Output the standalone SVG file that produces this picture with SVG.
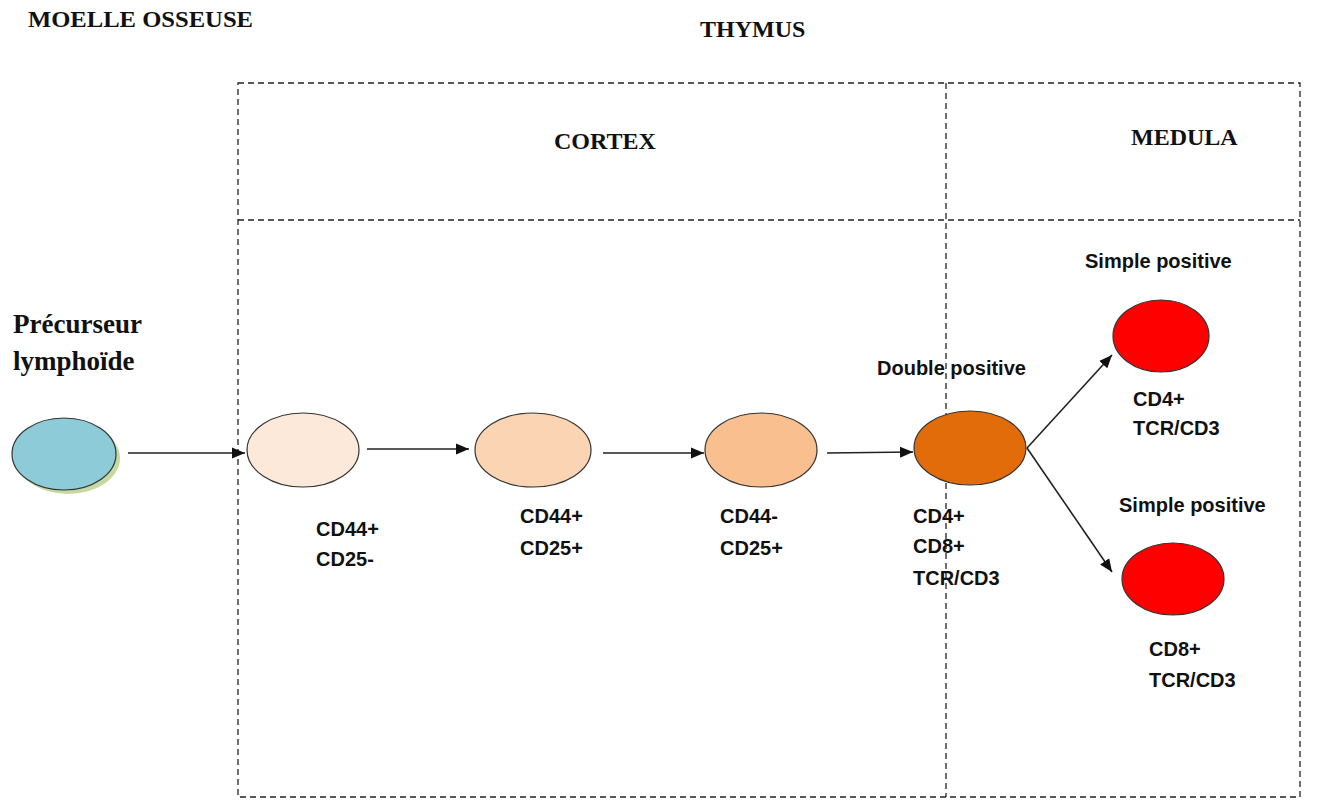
<svg xmlns="http://www.w3.org/2000/svg" width="1319" height="805" viewBox="0 0 1319 805">
<style>
.t{font-family:"Liberation Serif","Times New Roman",serif;font-weight:bold;font-size:24px;fill:#111;}
.tp{font-family:"Liberation Serif","Times New Roman",serif;font-weight:bold;font-size:27px;fill:#111;}
.s{font-family:"Liberation Sans",Arial,sans-serif;font-weight:bold;font-size:20px;fill:#111;}
.d{fill:none;stroke:#222;stroke-width:1.3;stroke-dasharray:6 4;}
.c{stroke:#333;stroke-width:1.2;}
.a{stroke:#222;stroke-width:1.6;fill:none;marker-end:url(#ah);}
</style>
<defs>
<marker id="ah" markerWidth="14" markerHeight="12" refX="13" refY="6" orient="auto" markerUnits="userSpaceOnUse" viewBox="0 0 14 12">
<path d="M0,0.5 L13,6 L0,11.5 z" fill="#111"/>
</marker>
</defs>
<rect width="1319" height="805" fill="#fff"/>
<g id="frames">
<rect class="d" x="238" y="83" width="1062" height="714"/>
<line class="d" x1="238" y1="220" x2="1300" y2="220"/>
<line class="d" x1="946" y1="83" x2="946" y2="797"/>
</g>
<g id="titles">
<text class="t" x="28" y="27" textLength="225" lengthAdjust="spacingAndGlyphs">MOELLE OSSEUSE</text>
<text class="t" x="700" y="37">THYMUS</text>
<text class="t" x="554" y="149">CORTEX</text>
<text class="t" x="1131" y="145">MEDULA</text>
</g>
<g id="precurseur">
<ellipse cx="68" cy="458" rx="52" ry="36" fill="#c6d9a0"/>
<ellipse class="c" cx="64" cy="454" rx="52" ry="36" fill="#8ecbd9"/>
<text class="tp" x="13" y="333">Précurseur</text>
<text class="tp" x="13" y="370">lymphoïde</text>
</g>
<g id="dn1">
<ellipse class="c" cx="303" cy="450" rx="56" ry="37" fill="#fde9d9"/>
<text class="s" x="316" y="536">CD44+</text>
<text class="s" x="316" y="566">CD25-</text>
</g>
<g id="dn2">
<ellipse class="c" cx="533" cy="450" rx="58" ry="37" fill="#fbd4b4"/>
<text class="s" x="520" y="523">CD44+</text>
<text class="s" x="520" y="555">CD25+</text>
</g>
<g id="dn3">
<ellipse class="c" cx="761" cy="450" rx="56" ry="37" fill="#f9bf8f"/>
<text class="s" x="720" y="523">CD44-</text>
<text class="s" x="720" y="555">CD25+</text>
</g>
<g id="dp">
<ellipse class="c" cx="970" cy="448" rx="56" ry="37" fill="#e36c0a"/>
<text class="s" x="877" y="375">Double positive</text>
<text class="s" x="913" y="523">CD4+</text>
<text class="s" x="913" y="553">CD8+</text>
<text class="s" x="913" y="585">TCR/CD3</text>
</g>
<g id="sp4">
<ellipse class="c" cx="1161" cy="336" rx="48" ry="36" fill="#ff0000"/>
<text class="s" x="1085" y="268">Simple positive</text>
<text class="s" x="1133" y="406">CD4+</text>
<text class="s" x="1133" y="435">TCR/CD3</text>
</g>
<g id="sp8">
<ellipse class="c" cx="1173" cy="579" rx="51" ry="36" fill="#ff0000"/>
<text class="s" x="1119" y="512">Simple positive</text>
<text class="s" x="1149" y="656">CD8+</text>
<text class="s" x="1149" y="687">TCR/CD3</text>
</g>
<g id="connectors">
<line class="a" x1="128" y1="453" x2="245" y2="453"/>
<line class="a" x1="367" y1="449" x2="469" y2="449"/>
<line class="a" x1="603" y1="453" x2="704" y2="453"/>
<line class="a" x1="827" y1="453" x2="913" y2="452"/>
<line class="a" x1="1027" y1="448" x2="1112" y2="355"/>
<line class="a" x1="1027" y1="448" x2="1112" y2="572"/>
</g>
</svg>
